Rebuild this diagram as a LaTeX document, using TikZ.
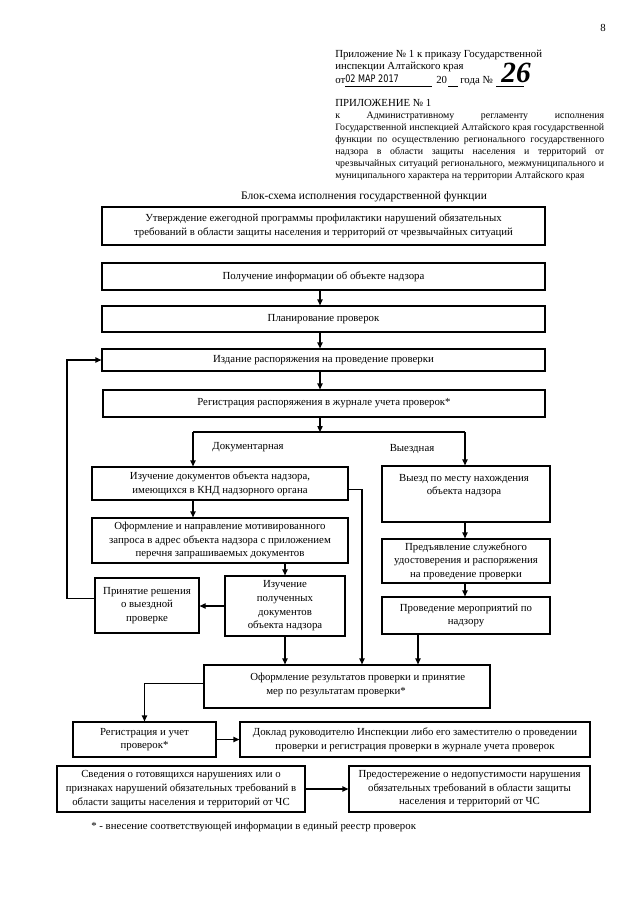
\documentclass[tikz,border=0pt]{standalone}
\usepackage{fontspec}
\setmainfont{Liberation Serif}
\newfontfamily\stampfont{DejaVu Sans}
\usepackage{graphicx}
\usetikzlibrary{arrows.meta,calc}
\newcommand\bxf{\fontsize{8.1}{10.2}\selectfont}
\newcommand\hdf{\fontsize{8.1}{9}\selectfont}
\newcommand\pf{\fontsize{7.4}{9}\selectfont}
\newcommand\mkbox[6]{\node[bx, minimum width={(#4-#2)*0.75pt}, minimum height={(#5-#3)*0.75pt}] (#1) at ({(#2+#4)/2},{(#3+#5)/2}) {#6};}
\newcommand\jl[1]{\makebox[201.75pt][s]{#1}}
\begin{document}
\begin{tikzpicture}[x=0.75pt,y=-0.75pt,
  bx/.style={draw,line width=0.9pt,inner sep=0pt,align=center,font=\bxf},
  ln/.style={line width=0.9pt},
  arr/.style={line width=0.9pt,-{Triangle[length=4.5pt,width=4pt]}},
  hd/.style={inner sep=0pt,font=\hdf},
  tx/.style={inner sep=0pt,font=\bxf,align=center}]
\useasboundingbox (0,0) rectangle (640,905);
\fill[white] (0,0) rectangle (640,905);

% page number
\node[hd,anchor=base] (pg) at (603,32) {8};

% header
\node[hd,anchor=base west] (h1) at (335,58) {Приложение № 1 к приказу Государственной};
\node[hd,anchor=base west] (h2) at (335,70) {инспекции Алтайского края};
\node[hd,anchor=base west] (h3) at (335,84) {от};
\node[inner sep=0pt,anchor=base west,font=\stampfont\fontsize{7.8}{8}\selectfont] (stamp) at (345,83) {\scalebox{0.78}[1]{02 МАР 2017}};
\draw[line width=0.6pt] (345,86) -- (432,86);
\node[hd,anchor=base west] (h4) at (436,84) {20};
\draw[line width=0.6pt] (448,86) -- (458,86);
\node[hd,anchor=base west] (h5) at (460,84) {года №};
\draw[line width=0.6pt] (496,86) -- (524,86);
\node[inner sep=0pt,anchor=base,font=\fontsize{22}{22}\selectfont\itshape\bfseries] (hand) at (516,83) {26};

\node[hd,anchor=base west] (h6) at (335,107) {ПРИЛОЖЕНИЕ № 1};
\node[inner sep=0pt,font=\pf,anchor=north west,align=left] (par) at (335,112) {%
\jl{к Административному регламенту исполнения}\\
\jl{Государственной инспекцией Алтайского края государственной}\\
\jl{функции по осуществлению регионального государственного}\\
\jl{надзора в области защиты населения и территорий от}\\
\jl{чрезвычайных ситуаций регионального, межмуниципального и}\\
муниципального характера на территории Алтайского края};

% title
\node[inner sep=0pt,anchor=base,font=\fontsize{8.6}{10}\selectfont] (title) at (364,200) {Блок-схема исполнения государственной функции};

% boxes
\mkbox{A}{102}{207}{545}{245}{Утверждение ежегодной программы профилактики нарушений обязательных\\требований в области защиты населения и территорий от чрезвычайных ситуаций}
\mkbox{B}{102}{263}{545}{290}{Получение информации об объекте надзора}
\mkbox{C}{102}{306}{545}{332}{Планирование проверок}
\mkbox{D}{102}{349}{545}{371}{Издание распоряжения на проведение проверки}
\mkbox{E}{103}{390}{545}{417}{Регистрация распоряжения в журнале учета проверок*}
\mkbox{F}{92}{467}{348}{500}{Изучение документов объекта надзора,\\имеющихся в КНД надзорного органа}
\mkbox{G}{92}{518}{348}{563}{Оформление и направление мотивированного\\запроса в адрес объекта надзора с приложением\\перечня запрашиваемых документов}
\mkbox{H}{225}{576}{345}{636}{Изучение\\полученных\\документов\\объекта надзора}
\mkbox{I}{95}{578}{199}{633}{Принятие решения\\о выездной\\проверке}
\mkbox{J1}{382}{466}{550}{522}{}
\node[tx,anchor=north] (J1t) at (464,474) {Выезд по месту нахождения\\объекта надзора};
\mkbox{J2}{382}{539}{550}{583}{Предъявление служебного\\удостоверения и распоряжения\\на проведение проверки}
\mkbox{J3}{382}{597}{550}{634}{Проведение мероприятий по\\надзору}
\mkbox{K}{204}{665}{490}{708}{}
\node[tx,anchor=north west,align=left] (Kt) at (250,673) {Оформление результатов проверки и принятие\\\hspace*{12pt}мер по результатам проверки*};
\mkbox{L}{73}{722}{216}{757}{Регистрация и учет\\проверок*}
\mkbox{M}{240}{722}{590}{757}{Доклад руководителю Инспекции либо его заместителю о проведении\\проверки и регистрация проверки в журнале учета проверок}
\mkbox{N}{57}{766}{305}{812}{Сведения о готовящихся нарушениях или о\\признаках нарушений обязательных требований в\\области защиты населения и территорий от ЧС}
\mkbox{O}{349}{766}{590}{812}{Предостережение о недопустимости нарушения\\обязательных требований в области защиты\\населения и территорий от ЧС}

% branch labels
\node[tx,anchor=base] (doc) at (248,449) {Документарная};
\node[tx,anchor=base] (vyezd) at (412,451) {Выездная};

% helper coordinates
\coordinate (sl) at (193,432);
\coordinate (sr) at (465,432);
\coordinate (lx) at (67,0);
\coordinate (fx) at (362,0);
\coordinate (jx) at (418,0);
\coordinate (cx) at (320,0);

% connectors
\draw[arr] (B.south -| cx) -- (C.north -| cx);
\draw[arr] (C.south -| cx) -- (D.north -| cx);
\draw[arr] (D.south -| cx) -- (E.north -| cx);
\draw[arr] (E.south -| cx) -- (cx |- sl);
\draw[ln] (sl) -- (sr);
\draw[arr] (sl) -- (sl |- F.north);
\draw[arr] (sr) -- (sr |- J1.north);
\draw[arr] (F.south -| sl) -- (G.north -| sl);
\draw[arr] (G.south -| H.north) -- (H.north);
\draw[arr] (H.west) -- (H.west -| I.east);
\draw[arr] ([yshift=5.5pt]I.west) -- ([yshift=5.5pt]I.west -| lx) |- (D.west);
\draw[arr] ([yshift=-4.5pt]F.east) -| (fx |- K.north);
\draw[arr] (H.south) -- (H.south |- K.north);
\draw[arr] (J1.south -| sr) -- (J2.north -| sr);
\draw[arr] (J2.south -| sr) -- (J3.north -| sr);
\draw[arr] (J3.south -| jx) -- (jx |- K.north);
\draw[arr] ([yshift=2pt]K.west) -| (L.north);
\draw[arr] (L.east) -- (M.west);
\draw[arr] (N.east) -- (O.west);

% footnote
\node[tx,anchor=base west] (fn) at (91,829) {* - внесение соответствующей информации в единый реестр проверок};
\end{tikzpicture}
\end{document}
